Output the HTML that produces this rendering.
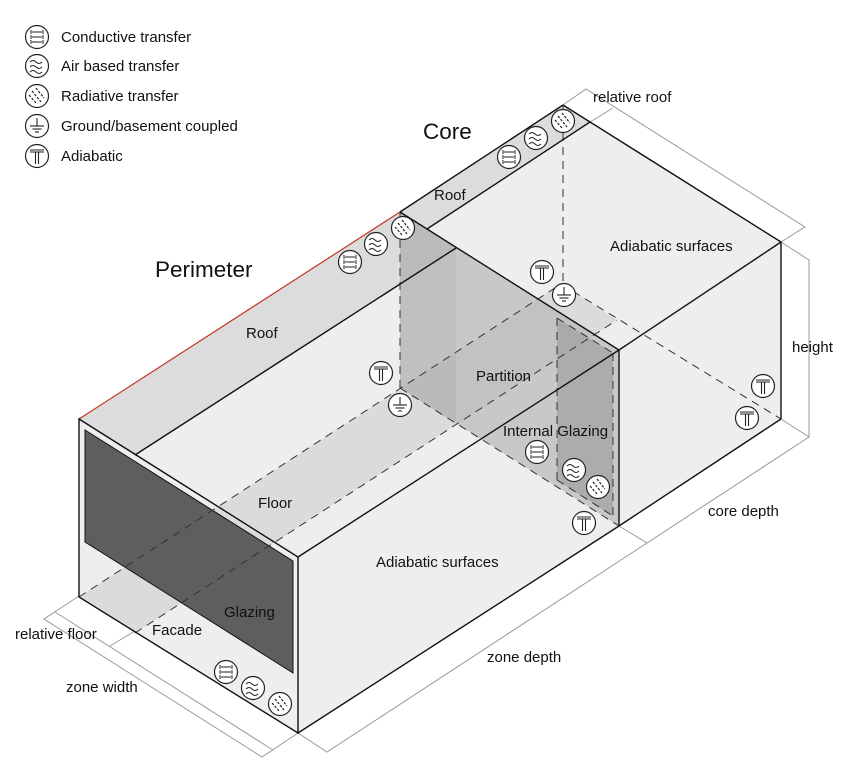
<!DOCTYPE html>
<html><head><meta charset="utf-8"><style>
html,body{margin:0;padding:0;background:#fff;}
svg{display:block;}
text{font-family:"Liberation Sans",sans-serif;fill:#111;}
</style></head><body>
<svg width="850" height="781" viewBox="0 0 850 781" xmlns="http://www.w3.org/2000/svg">
<defs>
<g id="ic">
<circle r="11.5" fill="#fff" stroke="#222" stroke-width="1.2"/>
</g>
<g id="cond"><use href="#ic"/>
<g stroke="#222" stroke-width="1" fill="none">
<line x1="-5" y1="-5" x2="5" y2="-5"/><line x1="-5" y1="0" x2="5" y2="0"/><line x1="-5" y1="5" x2="5" y2="5"/>
<line x1="-6" y1="-7" x2="-6" y2="-3"/><line x1="6" y1="-7" x2="6" y2="-3"/>
<line x1="-6" y1="-2" x2="-6" y2="2"/><line x1="6" y1="-2" x2="6" y2="2"/>
<line x1="-6" y1="3" x2="-6" y2="7"/><line x1="6" y1="3" x2="6" y2="7"/></g></g>
<g id="air"><use href="#ic"/>
<g stroke="#222" stroke-width="1" fill="none">
<path d="M-7,-4 q3,-3 6,0 t6,0"/><path d="M-7,1 q3,-3 6,0 t6,0"/><path d="M-7,6 q3,-3 6,0 t6,0"/></g></g>
<g id="rad"><use href="#ic"/>
<g stroke="#222" stroke-width="1.2" stroke-dasharray="2.5 1.5" fill="none">
<line x1="-5" y1="-5" x2="4" y2="6"/><line x1="-1" y1="-8" x2="7" y2="2"/><line x1="-8" y1="-1" x2="0" y2="8"/></g></g>
<g id="gnd"><use href="#ic"/>
<g stroke="#222" stroke-width="1.1"><line x1="0" y1="-8" x2="0" y2="0"/><line x1="-7" y1="0" x2="7" y2="0"/><line x1="-4.5" y1="3" x2="4.5" y2="3"/><line x1="-2" y1="6" x2="2" y2="6"/></g></g>
<g id="adi"><use href="#ic"/>
<g stroke="#222" stroke-width="1.1" fill="none"><path d="M-7,-6 H7 M-7,-4 H7"/><path d="M-1.5,-4 V8 M1.5,-4 V8"/></g></g>
</defs>

<!-- legend -->
<use href="#cond" x="37" y="37"/><text x="61" y="42" font-size="15">Conductive transfer</text>
<use href="#air" x="37" y="66"/><text x="61" y="71" font-size="15">Air based transfer</text>
<use href="#rad" x="37" y="96"/><text x="61" y="101" font-size="15">Radiative transfer</text>
<use href="#gnd" x="37" y="126"/><text x="61" y="131" font-size="15">Ground/basement coupled</text>
<use href="#adi" x="37" y="156"/><text x="61" y="161" font-size="15">Adiabatic</text>

<!-- dimension lines -->
<g stroke="#999" stroke-width="1" fill="none">
<path d="M563,105 L586,89 L805,227 L781,242"/>
<path d="M590,122 L613,108"/>
<path d="M781,242 L809,260 L809,437 L781,419"/>
<path d="M809,437 L647,543 L619,526"/>
<path d="M298,733 L327,752 L647,543"/>
<path d="M79,596 L44,619 L262,757 L298,733"/>
<path d="M55,612 L273,750"/>
<path d="M135,631 L110,646"/>
</g>

<!-- faces -->
<polygon points="79,419 298,557 298,733 79,597" fill="#eeeeee"/>
<polygon points="298,557 619,350 619,526 298,733" fill="#eeeeee"/>
<polygon points="619,350 781,242 781,419 619,526" fill="#eeeeee"/>
<polygon points="135,455 456,248 619,350 298,557" fill="#eeeeee"/>
<polygon points="79,419 400,212 456,248 135,455" fill="#dcdcdc"/>
<polygon points="427,229 590,122 781,242 619,350" fill="#eeeeee"/>
<polygon points="400,212 563,105 590,122 427,229" fill="#dcdcdc"/>

<!-- floor band -->
<polygon points="79,597 561,284 617,320 135,633" fill="#000" fill-opacity="0.08"/>
<!-- partition -->
<polygon points="400,212 619,350 619,526 400,388" fill="#b8b8b8" fill-opacity="0.7"/>
<polygon points="400,212 456,248 456,424 400,388" fill="#000" fill-opacity="0.04"/>
<polygon points="557,318 613,353 613,516 557,480" fill="#999" fill-opacity="0.6"/>

<!-- glazing -->
<polygon points="85,430 293,561 293,673 85,542" fill="#5e5e5e" stroke="#111" stroke-width="1"/>

<!-- dashed -->
<g stroke="#333" stroke-width="1" stroke-dasharray="8 6" fill="none">
<line x1="79" y1="597" x2="561" y2="284"/>
<line x1="135" y1="633" x2="617" y2="320"/>
<line x1="400" y1="212" x2="400" y2="388"/>
<line x1="563" y1="105" x2="563" y2="284"/>
<line x1="400" y1="388" x2="619" y2="526"/>
<line x1="561" y1="284" x2="781" y2="419"/>
<line x1="557" y1="318" x2="557" y2="480"/>
<line x1="613" y1="353" x2="613" y2="516"/>
<line x1="557" y1="318" x2="613" y2="353"/>
<line x1="557" y1="480" x2="613" y2="516"/>
</g>

<!-- solid edges -->
<line x1="79" y1="419" x2="400" y2="212" stroke="#c0392b" stroke-width="1.2"/>
<g stroke="#111" stroke-width="1.4" fill="none">
<polygon points="79,419 298,557 298,733 79,597"/>
<line x1="298" y1="557" x2="619" y2="350"/>
<line x1="298" y1="733" x2="619" y2="526"/>
<line x1="619" y1="350" x2="619" y2="526"/>
<line x1="619" y1="350" x2="781" y2="242"/>
<line x1="619" y1="526" x2="781" y2="419"/>
<line x1="781" y1="242" x2="781" y2="419"/>
<line x1="400" y1="212" x2="563" y2="105"/>
<line x1="563" y1="105" x2="781" y2="242"/>
<line x1="400" y1="212" x2="619" y2="350"/>
<line x1="135" y1="455" x2="456" y2="248"/>
<line x1="427" y1="229" x2="590" y2="122"/>
</g>

<!-- icons -->
<use href="#cond" x="509" y="157"/><use href="#air" x="536" y="138"/><use href="#rad" x="563" y="121"/>
<use href="#cond" x="350" y="262"/><use href="#air" x="376" y="244"/><use href="#rad" x="403" y="228"/>
<use href="#adi" x="542" y="272"/><use href="#gnd" x="564" y="295"/>
<use href="#adi" x="381" y="373"/><use href="#gnd" x="400" y="405"/>
<use href="#cond" x="537" y="452"/><use href="#air" x="574" y="470"/><use href="#rad" x="598" y="487"/>
<use href="#adi" x="584" y="523"/>
<use href="#adi" x="763" y="386"/><use href="#adi" x="747" y="418"/>
<use href="#cond" x="226" y="672"/><use href="#air" x="253" y="688"/><use href="#rad" x="280" y="704"/>

<!-- labels -->
<text x="423" y="139" font-size="22.5">Core</text>
<text x="155" y="277" font-size="22.5">Perimeter</text>
<text x="434" y="200" font-size="15">Roof</text>
<text x="246" y="338" font-size="15">Roof</text>
<text x="610" y="251" font-size="15">Adiabatic surfaces</text>
<text x="476" y="381" font-size="15">Partition</text>
<text x="503" y="436" font-size="15">Internal Glazing</text>
<text x="258" y="508" font-size="15">Floor</text>
<text x="376" y="567" font-size="15">Adiabatic surfaces</text>
<text x="224" y="617" font-size="15">Glazing</text>
<text x="152" y="635" font-size="15">Facade</text>
<text x="15" y="639" font-size="15">relative floor</text>
<text x="66" y="692" font-size="15">zone width</text>
<text x="487" y="662" font-size="15">zone depth</text>
<text x="708" y="516" font-size="15">core depth</text>
<text x="792" y="352" font-size="15">height</text>
<text x="593" y="102" font-size="15">relative roof</text>
</svg>
</body></html>
